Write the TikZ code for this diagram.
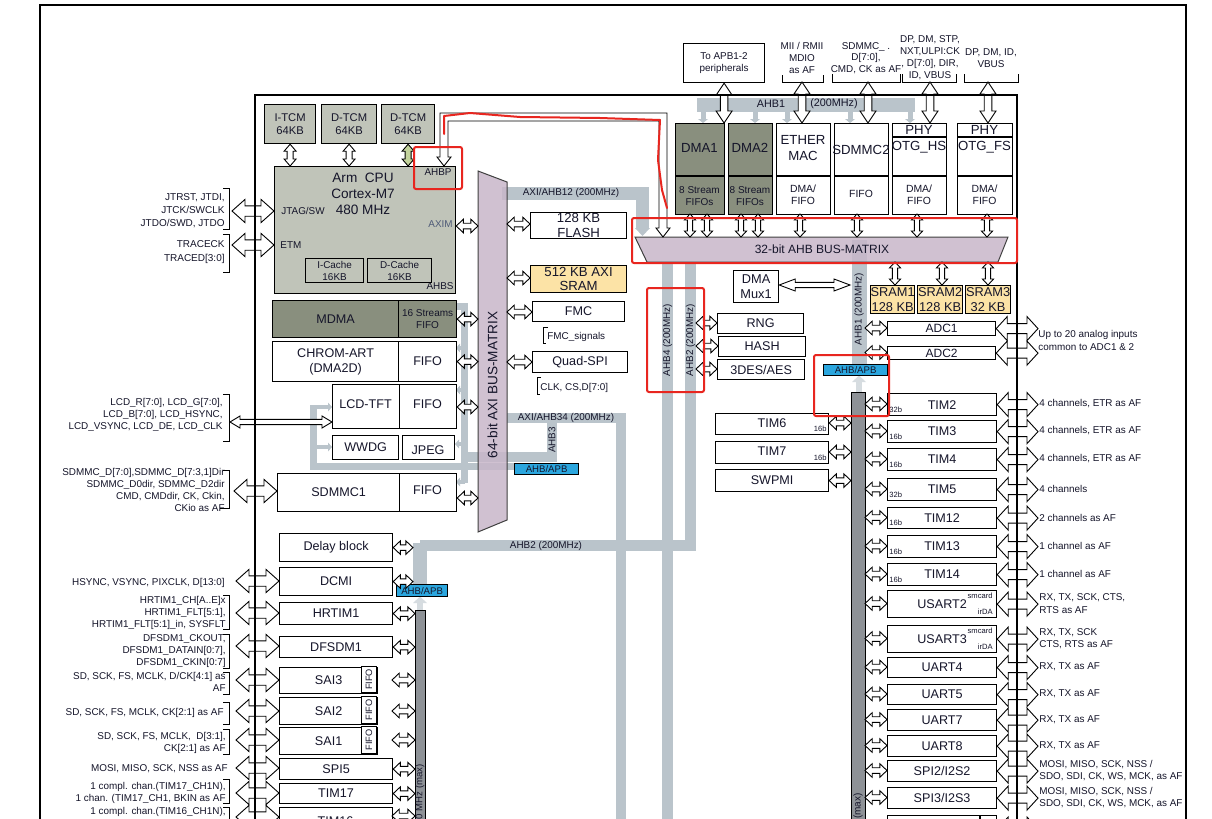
\documentclass[tikz,border=0pt]{standalone}
\usepackage{fontspec}
\setmainfont{Liberation Sans}
\usetikzlibrary{calc}
\definecolor{cpug}{HTML}{C0C4B9}
\definecolor{dmag}{HTML}{898F7E}
\definecolor{sramc}{HTML}{FCE3A6}
\definecolor{mtx}{HTML}{C8B7C9}
\definecolor{busg}{HTML}{BAC4CB}
\definecolor{apbg}{HTML}{8E9297}
\definecolor{ahbb}{HTML}{2BA6DE}
\definecolor{redc}{HTML}{E8261F}
\definecolor{tcmarr}{HTML}{C3D39C}
\definecolor{txt}{HTML}{15152A}
\definecolor{aximc}{HTML}{4F5B78}
\newcommand\fA{\fontsize{6.3}{7.4}\selectfont}
\newcommand\fB{\fontsize{4.95}{6.1}\selectfont}
\newcommand\fC{\fontsize{3.8}{4.4}\selectfont}
\newcommand\fD{\fontsize{5.6}{6.6}\selectfont}
\tikzset{
 blk/.style={draw=black,line width=0.6pt,fill=white,inner sep=0pt,align=center,font=\fA,text=txt},
 lbl/.style={inner sep=0pt,font=\fB,text=txt},
 tiny/.style={inner sep=0pt,font=\fC,text=txt},
 arw/.style={draw=black,line width=0.45pt,fill=white,line join=miter},
 bus/.style={draw=busg,line cap=butt,line join=miter},
 brk/.style={draw=black,line width=0.5pt},
 redbox/.style={draw=redc,line width=1pt},
 mtxs/.style={draw=black!75,line width=0.5pt,fill=mtx,fill opacity=0.85},
 bluebox/.style={fill=ahbb,font=\fontsize{4.8}{5.5}\selectfont},
 txtn/.style={inner sep=0pt,text=txt,align=center},
}
\newcommand\bx[7][]{\node[blk,anchor=north west,minimum width={(#5-#3)*0.5pt},minimum height={(#6-#4)*0.5pt},#1] (#2) at (#3,#4) {#7};}
\newcommand\harr[6][]{\path[arw,#1] let \p1=#2,\p2=#3 in (\x1,\y1) -- (\x1+#6,\y1+#5) -- (\x1+#6,\y1+#4) -- (\x2-#6,\y1+#4) -- (\x2-#6,\y1+#5) -- (\x2,\y1) -- (\x2-#6,\y1-#5) -- (\x2-#6,\y1-#4) -- (\x1+#6,\y1-#4) -- (\x1+#6,\y1-#5) -- cycle;}
\newcommand\varr[6][]{\path[arw,#1] let \p1=#2,\p2=#3 in (\x1,\y1) -- (\x1+#5,\y1-#6) -- (\x1+#4,\y1-#6) -- (\x1+#4,\y2+#6) -- (\x1+#5,\y2+#6) -- (\x1,\y2) -- (\x1-#5,\y2+#6) -- (\x1-#4,\y2+#6) -- (\x1-#4,\y1-#6) -- (\x1-#5,\y1-#6) -- cycle;}
\newcommand\HS[2]{\harr{#1}{#2}{1.4pt}{3.4pt}{3.6pt}}
\newcommand\HB[2]{\harr{#1}{#2}{2.6pt}{5.8pt}{6.5pt}}
\newcommand\HR[2]{\harr{#1}{#2}{2.5pt}{6pt}{5.5pt}}
\newcommand\VS[2]{\varr{#1}{#2}{1.3pt}{2.8pt}{3pt}}
\newcommand\VT[2]{\varr{#1}{#2}{1.9pt}{4pt}{6pt}}
\newcommand\gdn[3]{\fill[busg] ({#1-2.5},#2) rectangle ({#1+2.5},{#3-4}); \fill[busg] ({#1-5},{#3-4}) -- ({#1+5},{#3-4}) -- (#1,#3) -- cycle;}
\newcommand\grt[3]{\fill[busg] (#1,{#3-2}) rectangle ({#2-4},{#3+2}); \fill[busg] ({#2-4},{#3-4.5}) -- ({#2-4},{#3+4.5}) -- (#2,#3) -- cycle;}
\newcommand\glt[3]{\fill[busg] (#1,{#3-2}) rectangle ({#2+4},{#3+2}); \fill[busg] ({#2+4},{#3-4.5}) -- ({#2+4},{#3+4.5}) -- (#2,#3) -- cycle;}
\newcommand\tim[6]{%
 \bx{#1}{887}{#3}{996}{#4}{#2}%
 \node[tiny,anchor=base west] at (889,#4-3) {#5};%
 \HS{(865,{(#3+#4)/2})}{(#1.west)}%
 \HR{(#1.east)}{(1038,{(#3+#4)/2})}%
 \node[lbl,anchor=west,align=left] at (1039,{(#3+#4)/2}) {#6};}
\begin{document}
\begin{tikzpicture}[x=0.5pt,y=-0.5pt]
\useasboundingbox (0,0) rectangle (1212,819);
\clip (0,0) rectangle (1212,819);
\fill[white] (0,0) rectangle (1212,819);
\draw[line width=1.4pt] (40,5) rectangle (1186,840);

% ---------------- grey buses
\draw[bus,line width=7pt] (697,105) -- (915,105);
\foreach \q in {703,755,787,850,910} {\gdn{\q}{108}{123}}
\draw[bus,line width=6.5pt] (502,193.5) -- (642.5,193.5) -- (642.5,228);
\fill[busg] (635,228) -- (650,228) -- (642.5,236) -- cycle;
\draw[bus,line width=5.5pt] (667.5,262) -- (667.5,830);
\draw[bus,line width=5.5pt] (690.5,262) -- (690.5,545.5) -- (420,545.5);
\draw[bus,line width=7pt] (420,543) -- (420,584);
\draw[bus,line width=5pt] (507,418) -- (620.5,418) -- (620.5,830);
\draw[bus,line width=5pt] (552,418) -- (552,457) -- (462,457);
\draw[bus,line width=3.5pt] (456,306) -- (464.5,306) -- (464.5,483);
\glt{464}{456}{348}
\glt{464}{456}{390}
\glt{464}{455}{444}
\glt{465}{456}{482}
\draw[bus,line width=3.5pt] (514,466.5) -- (313,466.5) -- (313,405);
\grt{313}{332}{407}
\grt{313}{332}{447}
\draw[bus,line width=7.5pt] (859,240) -- (859,364);
\fill[busg!60] (856,381) rectangle (862,392);
\fill[busg!60] (852,382) -- (866,382) -- (859,375.5) -- cycle;
\fill[busg!60] (417,602) rectangle (423,610);
\fill[busg!60] (413,603) -- (427,603) -- (420,596.5) -- cycle;

% ---------------- bus matrices
\path[mtxs] (478,171) -- (507,182) -- (507,520) -- (478,532) -- cycle;
\node[rotate=90,font=\fontsize{6.8}{8}\selectfont,txtn] (axibm) at (492.5,385) {64-bit AXI BUS-MATRIX};
\path[mtxs] (635,237) -- (1008,237) -- (998,262) -- (647,262) -- cycle;
\node[font=\fontsize{6}{7}\selectfont,txtn] (ahbbm) at (822,249.5) {32-bit AHB BUS-MATRIX};

% ---------------- bus labels
\node[lbl,font=\fontsize{5.4}{6}\selectfont] (lahb1) at (771,104) {AHB1};
\node[lbl,font=\fontsize{5.4}{6}\selectfont] (lahb1b) at (834,104) {(200MHz)};
\node[lbl] (laxi12) at (571,193) {AXI/AHB12 (200MHz)};
\node[lbl] (laxi34) at (566,418) {AXI/AHB34 (200MHz)};
\node[lbl,rotate=90] (lahb3) at (552,440) {AHB3};
\node[lbl] (lahb2h) at (546,545.5) {AHB2 (200MHz)};
\node[lbl,rotate=90] (lahb4) at (667.5,340) {AHB4 (200MHz)};
\node[lbl,rotate=90] (lahb2v) at (690.5,340) {AHB2 (200MHz)};
\node[lbl,rotate=90] (lahb1v) at (859,309) {AHB1 (200MHz)};

% ---------------- AHB/APB bridges and APB bars
\bx[bluebox]{brA}{823}{364}{887}{375}{AHB/APB}
\bx[bluebox]{brB}{514}{463}{578}{474}{AHB/APB}
\bx[bluebox]{brC}{396}{584}{447}{596}{AHB/APB}
\bx[fill=apbg,line width=0.5pt]{apbA}{851}{392}{865}{845}{}
\bx[fill=apbg,line width=0.5pt]{apbB}{415}{610}{425}{845}{}
\node[lbl,font=\fontsize{5}{6}\selectfont,rotate=90,anchor=east] (lapbA) at (858,793) {(max)};
\node[lbl,font=\fontsize{4.8}{6}\selectfont,rotate=90,anchor=east] (lapbB) at (420,764) {0 MHz (max)};

% ---------------- CPU
\bx[fill=cpug,font=\fD]{itcm}{264}{104}{315}{143}{I-TCM\\64KB}
\bx[fill=cpug,font=\fD]{dtcmA}{321}{104}{376}{143}{D-TCM\\64KB}
\bx[fill=cpug,font=\fD]{dtcmB}{381}{104}{434}{143}{D-TCM\\64KB}
\bx[fill=cpug]{cpu}{274}{166}{455}{293}{}
\node[font=\fontsize{6.8}{8}\selectfont,txtn] (cpul) at (363,194) {Arm\ \ CPU\\Cortex-M7\\480 MHz};
\node[lbl,anchor=west] (ljtag) at (281,211) {JTAG/SW};
\node[lbl,anchor=west] (letm) at (280,245) {ETM};
\node[lbl,anchor=east,text=aximc] (laxim) at (453,224) {AXIM};
\node[lbl,anchor=east] (lahbp) at (452,172) {AHBP};
\node[lbl,anchor=east] (lahbs) at (454,286) {AHBS};
\bx[fill=cpug,font=\fB]{icache}{305}{258}{363}{282}{I-Cache\\16KB}
\bx[fill=cpug,font=\fB]{dcache}{367}{258}{431}{282}{D-Cache\\16KB}
\varr{(itcm.south)}{(itcm.south|-cpu.north)}{1.5pt}{3pt}{3.5pt}
\varr{(dtcmA.south)}{(dtcmA.south|-cpu.north)}{1.5pt}{3pt}{3.5pt}
\varr[fill=tcmarr]{(dtcmB.south)}{(dtcmB.south|-cpu.north)}{1.5pt}{3pt}{3.5pt}

% ---------------- AXI masters
\bx[fill=dmag]{mdma}{272}{300}{398}{337}{MDMA}
\bx[fill=dmag,font=\fontsize{5}{6}\selectfont]{mdmaf}{398}{300}{456}{337}{16 Streams\\FIFO}
\bx{chrom}{272}{341}{398}{381}{CHROM-ART\\(DMA2D)}
\bx{chromf}{398}{341}{456}{381}{FIFO}
\bx{lcd}{332}{384}{399}{428}{}
\node[txtn,font=\fA] (lcdl) at (365.5,404) {LCD-TFT};
\bx{lcdf}{399}{384}{456}{428}{}
\node[txtn,font=\fA] (lcdfl) at (427.5,404) {FIFO};
\bx{wwdg}{332}{435}{398}{459}{WWDG}
\bx{jpeg}{402}{435}{454}{459}{}
\node[txtn,font=\fA] (jpegl) at (428,450) {JPEG};
\bx{sdmA}{277}{473}{399}{511}{SDMMC1}
\bx{sdmAf}{399}{473}{456}{511}{}
\node[txtn,font=\fA] (sdmAfl) at (427.5,490) {FIFO};
\HS{(cpu.east|-0,226)}{(478,226)}
\HS{(mdmaf.east)}{(478,319)}
\HS{(chromf.east)}{(478,361)}
\HS{(lcdf.east|-0,407)}{(478,407)}
\HS{(sdmAf.east|-0,498)}{(478,498)}

% ---------------- AXI slaves
\bx[font=\fontsize{6.6}{7.2}\selectfont]{flash}{530}{212}{626}{238}{128 KB\\FLASH}
\bx[fill=sramc,font=\fontsize{6.6}{7.2}\selectfont]{axisram}{530}{265}{626}{292}{512 KB AXI\\SRAM}
\bx{fmc}{532}{301}{624}{321}{FMC}
\bx{qspi}{532}{351}{627}{372}{Quad-SPI}
\HS{(507,224)}{(flash.west|-0,224)}
\HS{(507,278)}{(axisram.west)}
\HS{(507,312)}{(fmc.west)}
\HS{(507,362)}{(qspi.west)}
\draw[brk] (548,327) -- (543,327) -- (543,343) -- (546,343);
\node[lbl,anchor=west] (lfmc) at (547,337) {FMC\_signals};
\draw[brk] (541,377) -- (537,377) -- (537,394) -- (540,394);
\node[lbl,anchor=west] (lqspi) at (540,388) {CLK, CS,D[7:0]};

% ---------------- left external signals (upper)
\node[lbl,anchor=east,align=right,font=\fontsize{5}{6.5}\selectfont] (sjtag) at (225,211) {JTRST, JTDI,\\JTCK/SWCLK\\JTDO/SWD, JTDO};
\draw[brk] (223,188) -- (229,188) -- (229,229) -- (223,229);
\node[lbl,anchor=east,align=right,font=\fontsize{5}{7}\selectfont] (setm) at (225,252) {TRACECK\\TRACED[3:0]};
\draw[brk] (223,234) -- (229,234) -- (229,272) -- (223,272);
\HB{(232,211)}{(cpu.west|-0,211)}
\HB{(232,245)}{(cpu.west|-0,245)}
\node[lbl,anchor=east,align=right,font=\fontsize{4.95}{6}\selectfont] (slcd) at (223,415) {LCD\_R[7:0], LCD\_G[7:0],\\LCD\_B[7:0], LCD\_HSYNC,\\LCD\_VSYNC, LCD\_DE, LCD\_CLK};
\draw[brk] (223,394) -- (229,394) -- (229,441) -- (223,441);
\harr{(230,422)}{(lcd.west|-0,422)}{1.3pt}{3pt}{5pt}
\node[lbl,anchor=east,align=right,font=\fontsize{4.95}{6.15}\selectfont] (ssdm) at (225,490) {SDMMC\_D[7:0],SDMMC\_D[7:3,1]Dir\\SDMMC\_D0dir, SDMMC\_D2dir\\CMD, CMDdir, CK, Ckin,\\CKio as AF};
\draw[brk] (223,470) -- (229,470) -- (229,508) -- (220,508);
\HB{(234,491)}{(sdmA.west|-0,491)}

% ---------------- left lower column
\bx{delay}{279}{533}{392}{561}{Delay block}
\bx{dcmi}{279}{567}{392}{595}{DCMI}
\bx{hrtim}{279}{602}{392}{624}{HRTIM1}
\bx{dfsdm}{279}{636}{392}{657}{DFSDM1}
\bx{saiC}{279}{667}{377}{693}{SAI3}
\bx[font=\fontsize{4.6}{5}\selectfont,rotate=90,anchor=south west]{saiCf}{377}{693}{403}{708}{FIFO}
\bx{saiB}{279}{697}{377}{724}{SAI2}
\bx[font=\fontsize{4.6}{5}\selectfont,rotate=90,anchor=south west]{saiBf}{377}{724}{404}{739}{FIFO}
\bx{saiA}{279}{727}{377}{754}{SAI1}
\bx[font=\fontsize{4.6}{5}\selectfont,rotate=90,anchor=south west]{saiAf}{377}{754}{404}{769}{FIFO}
\bx{spiE}{279}{758}{392}{779}{SPI5}
\bx{timQ}{279}{783}{392}{803}{TIM17}
\bx{timP}{279}{807}{392}{845}{}
\node[txtn,font=\fA] (timPl) at (335.5,821) {TIM16};
\HS{(delay.east)}{(413,547)}
\HS{(dcmi.east)}{(413,581)}
\HS{(hrtim.east)}{(apbB.west|-0,613)}
\HS{(dfsdm.east)}{(apbB.west|-0,646)}
\HS{(392,680)}{(apbB.west|-0,680)}
\HS{(392,711)}{(apbB.west|-0,711)}
\HS{(392,740)}{(apbB.west|-0,740)}
\HS{(spiE.east)}{(apbB.west|-0,768)}
\HS{(timQ.east)}{(apbB.west|-0,793)}
\HS{(392,816)}{(apbB.west|-0,816)}
\HB{(236,581)}{(dcmi.west|-0,581)}
\HB{(236,613)}{(hrtim.west|-0,613)}
\HB{(236,646)}{(dfsdm.west|-0,646)}
\HB{(236,680)}{(saiC.west|-0,680)}
\HB{(236,711)}{(saiB.west|-0,711)}
\HB{(236,740)}{(saiA.west|-0,740)}
\HB{(236,768)}{(spiE.west|-0,768)}
\HB{(236,793)}{(timQ.west|-0,793)}
\HB{(236,817)}{(timP.west|-0,817)}
\node[lbl,anchor=east] (sdcmi) at (225,583) {HSYNC, VSYNC, PIXCLK, D[13:0]};
\node[lbl,anchor=east,align=right] (shrt) at (226,613) {HRTIM1\_CH[A..E]x\\HRTIM1\_FLT[5:1],\\HRTIM1\_FLT[5:1]\_in, SYSFLT};
\draw[brk] (223,595) -- (229,595) -- (229,629) -- (223,629);
\node[lbl,anchor=east,align=right] (sdfs) at (226,651) {DFSDM1\_CKOUT,\\DFSDM1\_DATAIN[0:7],\\DFSDM1\_CKIN[0:7]};
\draw[brk] (223,634) -- (229,634) -- (229,668) -- (223,668);
\node[lbl,anchor=east,align=right] (ssaiC) at (226,682) {SD, SCK, FS, MCLK, D/CK[4:1] as\\AF};
\draw[brk] (223,672) -- (229,672) -- (229,694) -- (223,694);
\node[lbl,anchor=east] (ssaiB) at (224,713) {SD, SCK, FS, MCLK, CK[2:1] as AF};
\draw[brk] (223,702) -- (229,702) -- (229,724) -- (223,724);
\node[lbl,anchor=east,align=right] (ssaiA) at (226,743) {SD, SCK, FS, MCLK,\ \ D[3:1],\\CK[2:1] as AF};
\draw[brk] (223,729) -- (229,729) -- (229,754) -- (223,754);
\node[lbl,anchor=east] (sspi) at (228,769) {MOSI, MISO, SCK, NSS as AF};
\node[lbl,anchor=east,align=right] (stimQ) at (226,793) {1 compl. chan.(TIM17\_CH1N),\\1 chan. (TIM17\_CH1, BKIN as AF};
\draw[brk] (223,779) -- (229,779) -- (229,803) -- (223,803);
\node[lbl,anchor=north east,align=right] (stimP) at (226,807) {1 compl. chan.(TIM16\_CH1N),};
\draw[brk] (223,807) -- (229,807) -- (229,830);

% ---------------- top peripherals
\bx[font=\fB]{apbbox}{683}{43}{764}{82}{To APB1-2\\peripherals}
\node[lbl,align=center,font=\fontsize{4.95}{5.8}\selectfont] (smii) at (802,58) {MII / RMII\\MDIO\\as AF};
\draw[brk] (782,75) -- (782,82) -- (823,82) -- (823,75);
\node[lbl,align=center,font=\fontsize{4.95}{5.8}\selectfont] (ssdm2) at (866,58) {SDMMC\_ .\\D[7:0],\\CMD, CK as AF};
\draw[brk] (832,74) -- (832,82) -- (900,82) -- (900,74);
\node[lbl,align=center,font=\fontsize{4.95}{6}\selectfont] (shs) at (930,58) {DP, DM, STP,\\NXT,ULPI:CK\\, D[7:0], DIR,\\ID, VBUS};
\draw[brk] (902,74) -- (902,82) -- (956,82) -- (956,74);
\node[lbl,align=center,font=\fontsize{4.95}{6}\selectfont] (sfs) at (991,58) {DP, DM, ID,\\VBUS};
\draw[brk] (964,74) -- (964,82) -- (1018,82) -- (1018,74);

\bx[fill=dmag]{dmaA}{675}{123}{724}{214}{}
\bx[fill=dmag]{dmaB}{728}{123}{772}{214}{}
\bx{eth}{776}{123}{830}{214}{}
\bx{sdmB}{834}{123}{888}{214}{}
\bx{hs}{892}{123}{946}{214}{}
\bx{fs}{957}{123}{1012}{214}{}
\foreach \a/\b in {675/724,728/772,776/830,834/888,892/946,957/1012} {\draw[line width=0.6pt] (\a,176) -- (\b,176);}
\draw[line width=0.6pt] (892,137) -- (946,137);
\draw[line width=0.6pt] (957,137) -- (1012,137);
\node[txtn,font=\fontsize{6.6}{7.6}\selectfont] (dmaAl) at (699.5,148) {DMA1};
\node[txtn,font=\fontsize{6.6}{7.6}\selectfont] (dmaBl) at (750,148) {DMA2};
\node[txtn,font=\fontsize{5}{5.8}\selectfont] (dmaAf) at (699.5,196) {8 Stream\\FIFOs};
\node[txtn,font=\fontsize{5}{5.8}\selectfont] (dmaBf) at (750,196) {8 Stream\\FIFOs};
\node[txtn,font=\fontsize{6.6}{7.6}\selectfont] (ethl) at (803,148) {ETHER\\MAC};
\node[txtn,font=\fontsize{5.2}{6.2}\selectfont] (ethf) at (803,195) {DMA/\\FIFO};
\node[txtn,font=\fontsize{6.6}{7.6}\selectfont] (sdmBl) at (861,150) {SDMMC2};
\node[txtn,font=\fontsize{5.2}{6.2}\selectfont] (sdmBf) at (861,194) {FIFO};
\node[txtn,font=\fontsize{6.6}{7.6}\selectfont] (hsp) at (919,130) {PHY};
\node[txtn,font=\fontsize{6.6}{7.6}\selectfont] (hsl) at (919,147) {OTG\_HS};
\node[txtn,font=\fontsize{5.2}{6.2}\selectfont] (hsf) at (919,195) {DMA/\\FIFO};
\node[txtn,font=\fontsize{6.6}{7.6}\selectfont] (fsp) at (984.5,130) {PHY};
\node[txtn,font=\fontsize{6.6}{7.6}\selectfont] (fsl) at (984.5,147) {OTG\_FS};
\node[txtn,font=\fontsize{5.2}{6.2}\selectfont] (fsf) at (984.5,195) {DMA/\\FIFO};

\VT{(apbbox.south)}{(723.5,123)}
\VT{(802,82)}{(eth.north-|802,0)}
\VT{(868,82)}{(sdmB.north-|868,0)}
\VT{(930,82)}{(hs.north-|930,0)}
\VT{(988,82)}{(fs.north-|988,0)}
\foreach \q in {690,707,741,758,800,857,917,987} {\VS{(\q,214)}{(\q,237)}}

% ---------------- AHB slaves and peripherals
\bx[fill=sramc,font=\fontsize{6.4}{7.4}\selectfont]{sramA}{870}{285}{913}{313}{SRAM1\\128 KB}
\bx[fill=sramc,font=\fontsize{6.4}{7.4}\selectfont]{sramB}{917}{285}{962}{313}{SRAM2\\128 KB}
\bx[fill=sramc,font=\fontsize{6.4}{7.4}\selectfont]{sramC}{965}{285}{1010}{313}{SRAM3\\32 KB}
\VS{(895,262)}{(sramA.north-|895,0)}
\VS{(942,262)}{(sramB.north-|942,0)}
\VS{(988,262)}{(sramC.north-|988,0)}
\bx[font=\fontsize{6.4}{7.4}\selectfont]{dmamux}{733}{270}{778}{302}{DMA\\Mux1}
\harr{(dmamux.east|-0,285)}{(850,285)}{1.3pt}{3pt}{8pt}
\bx{rng}{717}{313}{803}{333}{RNG}
\bx{hash}{718}{336}{805}{356}{HASH}
\bx{aes}{717}{359}{804}{379}{3DES/AES}
\HS{(696,323)}{(rng.west)}
\HS{(696,346)}{(hash.west)}
\HS{(696,369)}{(aes.west)}
\bx{timF}{715}{413}{828}{434}{}
\node[txtn,font=\fA] (timFl) at (772,423) {TIM6};
\node[tiny,anchor=base east] (timFb) at (827,431) {16b};
\bx{timG}{715}{441}{828}{463}{}
\node[txtn,font=\fA] (timGl) at (772,451) {TIM7};
\node[tiny,anchor=base east] (timGb) at (827,460) {16b};
\bx{swp}{715}{469}{828}{491}{SWPMI}
\HS{(timF.east|-0,423)}{(apbA.west|-0,423)}
\HS{(timG.east|-0,452)}{(apbA.west|-0,452)}
\HS{(swp.east)}{(apbA.west|-0,480)}

\bx[font=\fontsize{6}{7}\selectfont]{adcA}{887}{321}{995}{335}{ADC1}
\bx[font=\fontsize{6}{7}\selectfont]{adcB}{887}{346}{995}{359}{ADC2}
\HS{(865,328)}{(adcA.west)}
\HS{(865,352.5)}{(adcB.west)}
\HR{(adcA.east)}{(1038,328)}
\HR{(adcB.east)}{(1038,352.5)}
\node[lbl,anchor=west,align=left] (sadc) at (1038,340.5) {Up to 20 analog inputs\\common to ADC1 \& 2};

\tim{timB}{TIM2}{393}{415}{32b}{4 channels, ETR as AF}
\tim{timC}{TIM3}{420}{442}{16b}{4 channels, ETR as AF}
\tim{timD}{TIM4}{448}{470}{16b}{4 channels, ETR as AF}
\tim{timE}{TIM5}{478}{500}{32b}{4 channels}
\tim{timL}{TIM12}{507}{528}{16b}{2 channels as AF}
\tim{timM}{TIM13}{535}{557}{16b}{1 channel as AF}
\tim{timN}{TIM14}{563}{585}{16b}{1 channel as AF}
\tim{usB}{USART2}{590}{617}{}{RX, TX, SCK, CTS,\\RTS as AF}
\node[tiny,anchor=east] (usBs) at (993,596) {smcard};
\node[tiny,anchor=east] (usBi) at (993,612) {irDA};
\tim{usC}{USART3}{625}{652}{}{RX, TX, SCK\\CTS, RTS as AF}
\node[tiny,anchor=east] (usCs) at (993,631) {smcard};
\node[tiny,anchor=east] (usCi) at (993,647) {irDA};
\tim{uaD}{UART4}{657}{677}{}{RX, TX as AF}
\tim{uaE}{UART5}{684}{704}{}{RX, TX as AF}
\tim{uaG}{UART7}{709}{730}{}{RX, TX as AF}
\tim{uaH}{UART8}{735}{756}{}{RX, TX as AF}
\tim{spiB}{SPI2/I2S2}{760}{781}{}{MOSI, MISO, SCK, NSS /\\SDO, SDI, CK, WS, MCK, as AF}
\tim{spiC}{SPI3/I2S3}{787}{808}{}{MOSI, MISO, SCK, NSS /\\SDO, SDI, CK, WS, MCK, as AF}
\bx{nxt}{887}{815}{996}{845}{}
\draw[line width=0.6pt] (980,815) -- (980,845);
\HS{(865,829)}{(nxt.west|-0,829)}
\HR{(nxt.east|-0,829)}{(1038,829)}

% ---------------- AHBP path
\path[arw] (444,166) -- (437,157) -- (440,157) -- (440,113) -- (667,113) -- (667,228) -- (670,228) -- (663,237) -- (656,228) -- (659,228) -- (659,121) -- (448,121) -- (448,157) -- (451,157) -- cycle;

% ---------------- chip border
\draw[line width=1.3pt] (255,840) -- (255,95) -- (1017,95) -- (1017,840);

% ---------------- red annotations
\draw[redbox,rounded corners=1pt] (414,147) rectangle (462,189);
\draw[redbox,rounded corners=1pt] (632,218) rectangle (1017,263);
\draw[redbox,rounded corners=1pt] (647,288) rectangle (704,392);
\draw[redbox,rounded corners=1pt] (814,355) rectangle (889,416);
\draw[redbox,line join=round,line cap=round] (444,134) -- (444,116) -- (470,113) -- (520,117) -- (600,118) -- (660,120) -- (658,160) -- (662,190) -- (667,208);
\end{tikzpicture}
\end{document}
